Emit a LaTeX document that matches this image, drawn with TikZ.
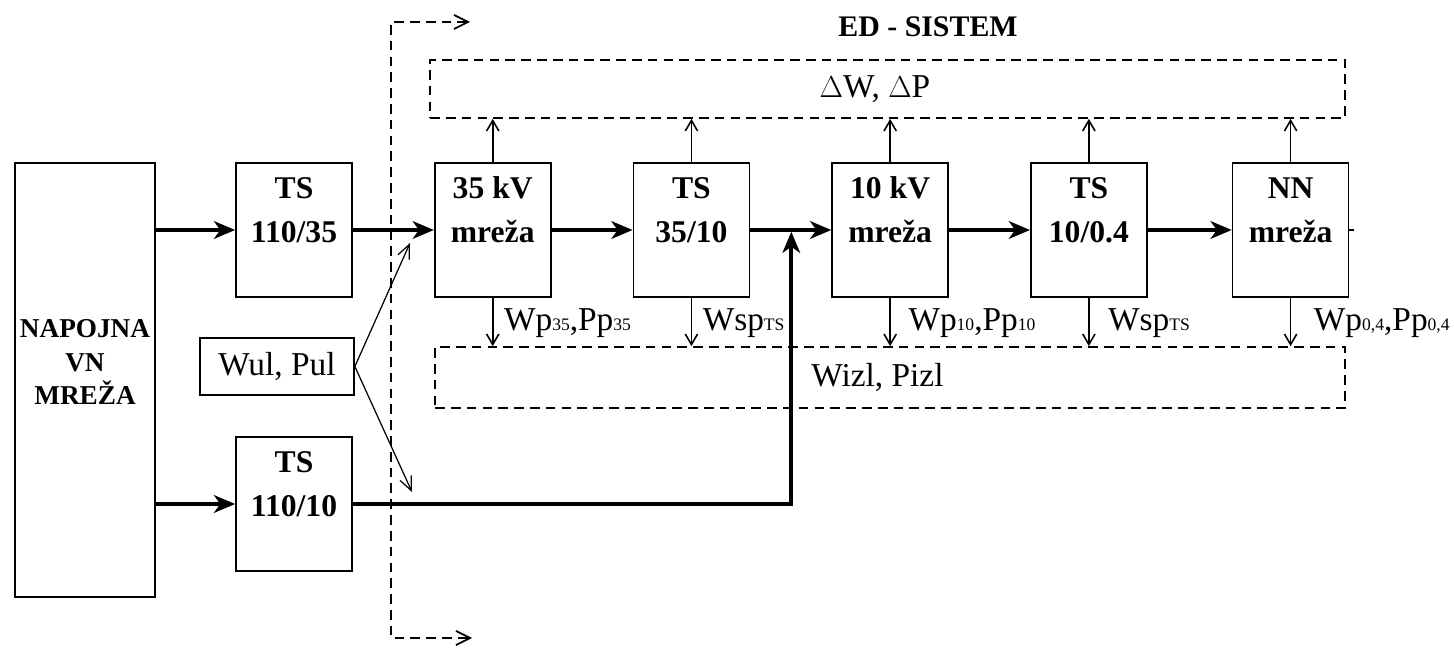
\documentclass[tikz,border=0pt]{standalone}
\usepackage{fontspec}
\setmainfont{Liberation Serif}
\usetikzlibrary{arrows.meta, positioning}
\newcommand{\indeks}[1]{{\fontsize{10}{10}\selectfont #1}}
\tikzstyle{blok} = [rectangle, draw, line width=1pt, minimum width=2.32cm, minimum height=2.68cm, inner sep=0pt]
\tikzstyle{natpis} = [align=center, inner sep=0pt, font=\fontsize{18}{25}\selectfont\bfseries]
\tikzstyle{okvir} = [rectangle, draw, line width=1pt, dash pattern=on 5.5pt off 3.5pt, inner sep=0pt]
\tikzstyle{oznaka} = [inner sep=0pt, font=\fontsize{19}{21}\selectfont]
\tikzstyle{tok} = [line width=2.2pt, -{Stealth[length=12pt, width=10pt, inset=3.5pt]}]
\tikzstyle{gubici} = [line width=0.9pt, -{Straight Barb[length=6pt, width=7pt]}]
\tikzstyle{tanka} = [line width=0.7pt, -{Straight Barb[length=8pt, width=7pt]}]
\tikzstyle{granica} = [line width=1pt, dash pattern=on 5.5pt off 3.5pt, {Straight Barb[length=8pt, width=8pt]}-{Straight Barb[length=8pt, width=8pt]}]

\begin{document}
\begin{tikzpicture}[x=0.02cm, y=-0.02cm, node distance=1.62cm]
  \useasboundingbox (0,0) rectangle (1454,648);

  % napojna mreza i transformatori 110 kV
  \node (nap) [blok, minimum width=2.8cm, minimum height=8.68cm] at (85,380) {};
  \node (napt) [natpis, font=\fontsize{15.5}{19}\selectfont\bfseries] at (85,362) {NAPOJNA\\VN\\MREŽA};
  \node (ts1) [blok] at (294,230) {};
  \node (ts2) [blok] at (294,504) {};
  \node (wul) [rectangle, draw, line width=1pt, minimum width=3.08cm, minimum height=1.14cm, oznaka] at (277,366.5) {Wul,\ Pul};

  % glavni niz
  \node (b35) [blok, right=of ts1] {};
  \node (ts3510) [blok, right=of b35] {};
  \node (b10) [blok, right=of ts3510] {};
  \node (ts10) [blok, right=of b10] {};
  \node (bnn) [blok, right=1.68cm of ts10] {};

  \node (ts1t) [natpis, yshift=0.4cm] at (ts1.center) {TS\\110/35};
  \node (ts2t) [natpis, yshift=0.4cm] at (ts2.center) {TS\\110/10};
  \node (b35t) [natpis, yshift=0.4cm] at (b35.center) {35 kV\\mreža};
  \node (ts3510t) [natpis, yshift=0.4cm] at (ts3510.center) {TS\\35/10};
  \node (b10t) [natpis, yshift=0.4cm] at (b10.center) {10 kV\\mreža};
  \node (ts10t) [natpis, yshift=0.4cm] at (ts10.center) {TS\\10/0.4};
  \node (bnnt) [natpis, yshift=0.4cm] at (bnn.center) {NN\\mreža};

  % okviri gubitaka i izlaza
  \node (dw) [okvir, minimum width=18.3cm, minimum height=1.16cm] at (887.5,89) {};
  \node (dwt) [oznaka, xshift=-0.25cm] at (dw.center) {$\Delta$W,\ $\Delta$P};
  \node (izl) [okvir, minimum width=18.2cm, minimum height=1.22cm] at (890,377.5) {};
  \node (izlt) [oznaka, xshift=-0.25cm] at (izl.center) {Wizl,\ Pizl};
  \node (ed) [natpis, font=\fontsize{17}{18}\selectfont\bfseries] at (928,27) {ED - SISTEM};

  % tokovi energije
  \coordinate[right=0.82cm of ts3510.east] (spoj);
  \draw [tok] (nap.east |- ts1.west) -- (ts1.west);
  \draw [tok] (nap.east |- ts2.west) -- (ts2.west);
  \draw [tok] (ts1) -- (b35);
  \draw [tok] (b35) -- (ts3510);
  \draw [tok] (ts3510) -- (b10);
  \draw [tok] (b10) -- (ts10);
  \draw [tok] (ts10) -- (bnn);
  \draw [tok, shorten >=1pt] (ts2.east) -| (spoj);
  \draw [line width=1pt] (bnn.east) -- ++(5,0);

  \foreach \b in {b35,ts3510,b10,ts10,bnn} {
    \draw [gubici] (\b.north) -- (\b.north |- dw.south);
    \draw [gubici] (\b.south) -- (\b.south |- izl.north);
  }
  \node [oznaka, anchor=west] (l1) at ([xshift=0.22cm, yshift=-0.5cm]b35.south) {Wp\indeks{35},Pp\indeks{35}};
  \node [oznaka, anchor=west] (l2) at ([xshift=0.22cm, yshift=-0.5cm]ts3510.south) {Wsp\indeks{TS}};
  \node [oznaka, anchor=west] (l3) at ([xshift=0.36cm, yshift=-0.5cm]b10.south) {Wp\indeks{10},Pp\indeks{10}};
  \node [oznaka, anchor=west] (l4) at ([xshift=0.38cm, yshift=-0.5cm]ts10.south) {Wsp\indeks{TS}};
  \node [oznaka, anchor=west] (l5) at ([xshift=0.46cm, yshift=-0.5cm]bnn.south) {Wp\indeks{0,4},Pp\indeks{0,4}};

  % uvoz iz drugih sistema
  \coordinate (u1) at (410,243);
  \coordinate (u2) at (412,492);
  \draw [tanka] (wul.east) -- (u1);
  \draw [tanka] (wul.east) -- (u2);

  % granica sistema
  \coordinate (g1) at (470,22);
  \coordinate (g2) at (391,22);
  \coordinate (g3) at (391,638);
  \coordinate (g4) at (472,638);
  \draw [granica] (g1) -- (g2) -- (g3) -- (g4);
\end{tikzpicture}
\end{document}
